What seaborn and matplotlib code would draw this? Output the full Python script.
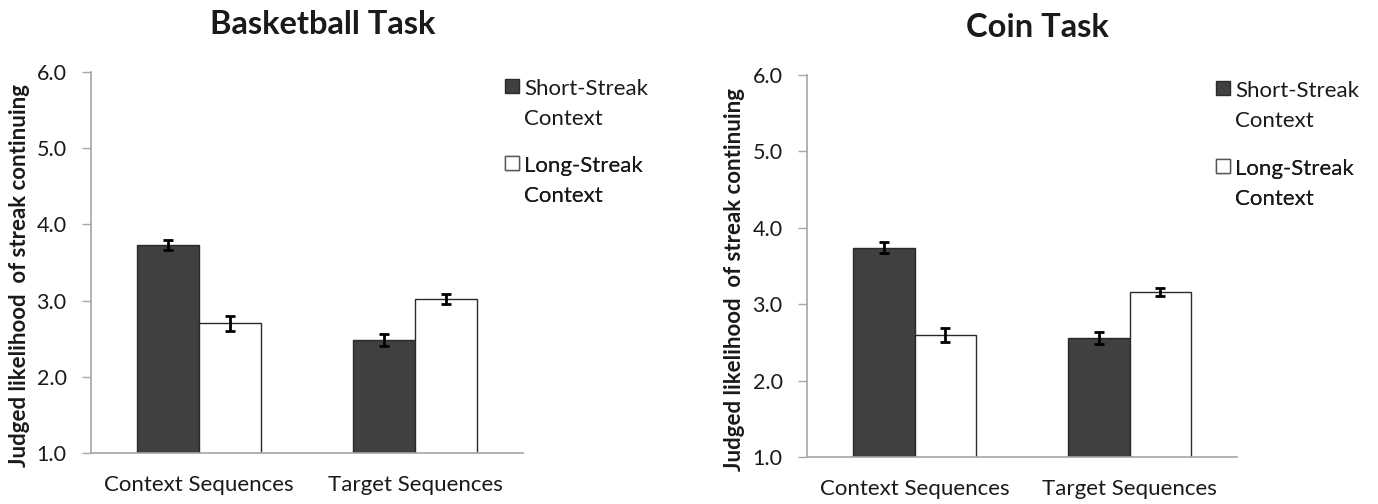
import matplotlib
matplotlib.use("Agg")
import matplotlib.pyplot as plt
import seaborn as sns
import pandas as pd
from matplotlib.patches import Patch

sns.set_style("white")
plt.rcParams["font.family"] = ["Lato", "DejaVu Sans"]

# ---- data ----
sequences = ["Context Sequences", "Target Sequences"]
contexts = ["Short-Streak\nContext", "Long-Streak\nContext"]
titles = ["Basketball Task", "Coin Task"]
ylabel = "Judged likelihood  of streak continuing"

bb_short = [3.73, 2.48]
bb_long = [2.70, 3.02]
bb_short_err = [0.06, 0.08]
bb_long_err = [0.10, 0.07]

coin_short = [3.74, 2.56]
coin_long = [2.60, 3.16]
coin_short_err = [0.07, 0.08]
coin_long_err = [0.09, 0.05]

yticks = [1.0, 2.0, 3.0, 4.0, 5.0, 6.0]

dark = "#404040"
white = "#ffffff"
spine_col = "#a6a6a6"
text_col = "#1a1a1a"

W, H = 1378, 504
fig = plt.figure(figsize=(W / 100, H / 100), dpi=100)
ax1 = fig.add_axes([91 / W, 1 - 453 / H, 432 / W, 381 / H])
ax2 = fig.add_axes([807 / W, 1 - 457 / H, 430 / W, 382 / H])

panels = [
    dict(ax=ax1, title=titles[0], short=bb_short, long=bb_long,
         s_err=bb_short_err, l_err=bb_long_err,
         title_xy=(322.5, 34), ylab_x=-0.141, leg_x=505, leg_y=(79, 156)),
    dict(ax=ax2, title=titles[1], short=coin_short, long=coin_long,
         s_err=coin_short_err, l_err=coin_long_err,
         title_xy=(1037, 37), ylab_x=-0.144, leg_x=1216, leg_y=(81, 159)),
]

for p in panels:
    ax = p["ax"]
    df = pd.DataFrame({
        "seq": sequences * 2,
        "context": [contexts[0]] * 2 + [contexts[1]] * 2,
        "value": p["short"] + p["long"],
    })
    sns.barplot(data=df, x="seq", y="value", hue="context",
                palette=[dark, white], hue_order=contexts, order=sequences,
                width=0.575, gap=0, errorbar=None, ax=ax,
                edgecolor="#2a2a2a", linewidth=1.0, legend=False)
    for cont, err in zip(ax.containers, [p["s_err"], p["l_err"]]):
        xs = [b.get_x() + b.get_width() / 2 for b in cont.patches]
        ys = [b.get_y() + b.get_height() for b in cont.patches]
        ax.errorbar(xs, ys, yerr=err, fmt="none", ecolor="black",
                    elinewidth=2, capsize=3.8, capthick=2, zorder=5)
    ax.set_ylim(1.0, 6.0)
    ax.set_xlim(-0.5, 1.5)
    ax.set_yticks(yticks)
    ax.set_yticklabels([f"{v:.1f}" for v in yticks], fontsize=15.5, color=text_col)
    ax.tick_params(axis="x", length=0, labelsize=16, pad=16, colors=text_col)
    ax.tick_params(axis="y", length=6.5, width=1, color=spine_col, direction="out",
                   left=True, pad=11)
    ax.set_xlabel("")
    ax.set_ylabel(ylabel, fontsize=16, fontweight="bold", color=text_col)
    ax.yaxis.set_label_coords(p["ylab_x"], 0.465)
    for s in ["top", "right"]:
        ax.spines[s].set_visible(False)
    for s in ["left", "bottom"]:
        ax.spines[s].set_color(spine_col)
        ax.spines[s].set_linewidth(1.2)
    tx, ty = p["title_xy"]
    fig.text(tx / W, 1 - ty / H, p["title"], ha="center", va="baseline",
             fontsize=23.5, fontweight="bold", color=text_col)
    # legend: one small legend per context, handle aligned with first line
    handles = [Patch(facecolor=dark, edgecolor="#2a2a2a", linewidth=1.0),
               Patch(facecolor=white, edgecolor="#555555", linewidth=1.0)]
    for h, lab, ly in zip(handles, contexts, p["leg_y"]):
        leg = ax.legend([h], [lab], loc="upper left",
                        bbox_to_anchor=(p["leg_x"] / W, 1 - ly / H),
                        bbox_transform=fig.transFigure,
                        frameon=False, fontsize=16, handlelength=0.62,
                        handleheight=0.6, handletextpad=0.25,
                        borderaxespad=0, borderpad=0)
        for t in leg.get_texts():
            t.set_linespacing(1.65)
            t.set_color(text_col)
        try:
            for col in leg._legend_handle_box.get_children():
                for item in col.get_children():
                    item.align = "top"
        except Exception:
            pass
        ax.add_artist(leg)

fig.savefig("out.png", dpi=100)
